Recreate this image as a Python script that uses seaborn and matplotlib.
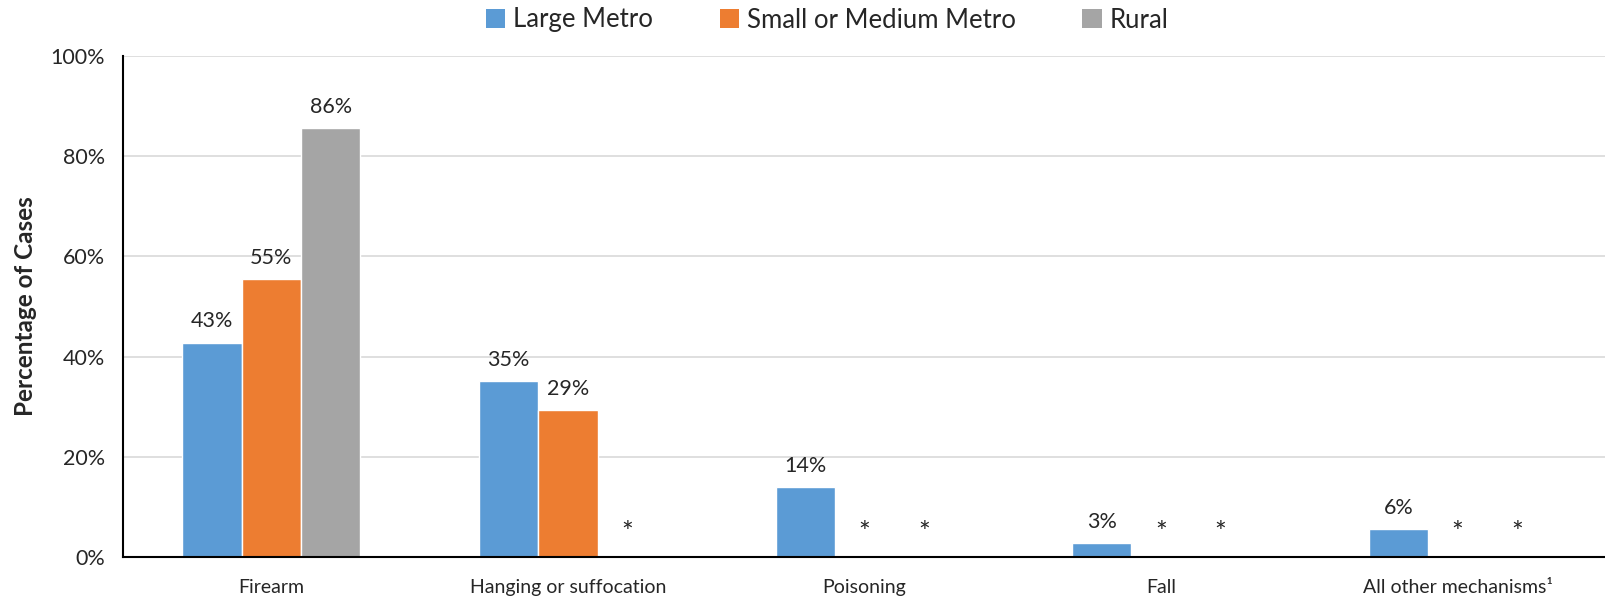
import matplotlib
matplotlib.use("Agg")
import matplotlib.pyplot as plt
import numpy as np
import pandas as pd
import seaborn as sns
from matplotlib.patches import Patch

# Data (None = suppressed, shown as "*")
mechanisms = ["Firearm", "Hanging or suffocation", "Poisoning", "Fall", "All other mechanisms\u00b9"]
series = ["Large Metro", "Small or Medium Metro", "Rural"]
large_metro = [42.8, 35.2, 14.0, 2.7, 5.6]
small_medium_metro = [55.4, 29.3, None, None, None]
rural = [85.7, None, None, None, None]
large_labels = ["43%", "35%", "14%", "3%", "6%"]
small_labels = ["55%", "29%", "*", "*", "*"]
rural_labels = ["86%", "*", "*", "*", "*"]
colors = ["#5B9BD5", "#ED7D31", "#A5A5A5"]

sns.set_style("white")
plt.rcParams["font.family"] = ["Lato", "DejaVu Sans"]

rows = []
for vals, labs, name in [(large_metro, large_labels, series[0]),
                         (small_medium_metro, small_labels, series[1]),
                         (rural, rural_labels, series[2])]:
    for m, v, l in zip(mechanisms, vals, labs):
        rows.append({"mechanism": m, "series": name,
                     "value": np.nan if v is None else v, "label": l})
df = pd.DataFrame(rows)

fig = plt.figure(figsize=(16.06, 6.02), dpi=100)
ax = fig.add_axes([123 / 1606, 1 - 557 / 602, 1 - 123 / 1606, 501 / 602])

sns.barplot(data=df, x="mechanism", y="value", hue="series", order=mechanisms,
            hue_order=series, palette=colors, width=0.6, gap=0, saturation=1,
            legend=False, ax=ax, zorder=2)

# data labels and asterisks
offsets = [-0.2, 0.0, 0.2]
for j, name in enumerate(series):
    sub = df[df["series"] == name].set_index("mechanism")
    for i, m in enumerate(mechanisms):
        v = sub.loc[m, "value"]
        lab = sub.loc[m, "label"]
        x = i + offsets[j]
        if np.isnan(v):
            ax.text(x, 4.6, lab, ha="center", va="center", fontsize=20)
        else:
            ax.annotate(lab, (x, v), xytext=(0, 8), textcoords="offset points",
                        ha="center", va="bottom", fontsize=15.5)

ax.set_ylim(0, 100)
ax.set_xlim(-0.5, -0.5 + (1606 - 123) / 297.5)
ax.set_yticks(np.arange(0, 101, 20))
ax.set_yticklabels([f"{t}%" for t in range(0, 101, 20)], fontsize=15.5)
ax.set_xticks(np.arange(5))
ax.set_xticklabels(mechanisms, fontsize=14)
ax.set_xticks(np.arange(-0.5, 5.0, 1.0), minor=True)
ax.tick_params(axis="x", which="major", length=0, pad=16)
ax.tick_params(axis="x", which="minor", length=7, width=1.3, color="black", direction="out")
ax.tick_params(axis="y", length=7, width=1.3, color="black", direction="out", pad=6)
ax.yaxis.grid(True, color="#D9D9D9", linewidth=1.2, zorder=0)
ax.set_axisbelow(True)
ax.set_xlabel("")
ax.set_ylabel("Percentage of Cases", fontsize=17.5, fontweight="bold", labelpad=10)

for s in ["top", "right"]:
    ax.spines[s].set_visible(False)
for s in ["left", "bottom"]:
    ax.spines[s].set_color("black")
    ax.spines[s].set_linewidth(1.5)

handles = [Patch(facecolor=c, edgecolor="none", label=n) for c, n in zip(colors, series)]
fig.legend(handles=handles, loc="center", bbox_to_anchor=(0.515, 1 - 20 / 602), ncol=3,
           frameon=False, fontsize=18.5, handlelength=0.75, handleheight=0.75,
           handletextpad=0.3, columnspacing=2.6)

fig.savefig("out.png", dpi=100)
